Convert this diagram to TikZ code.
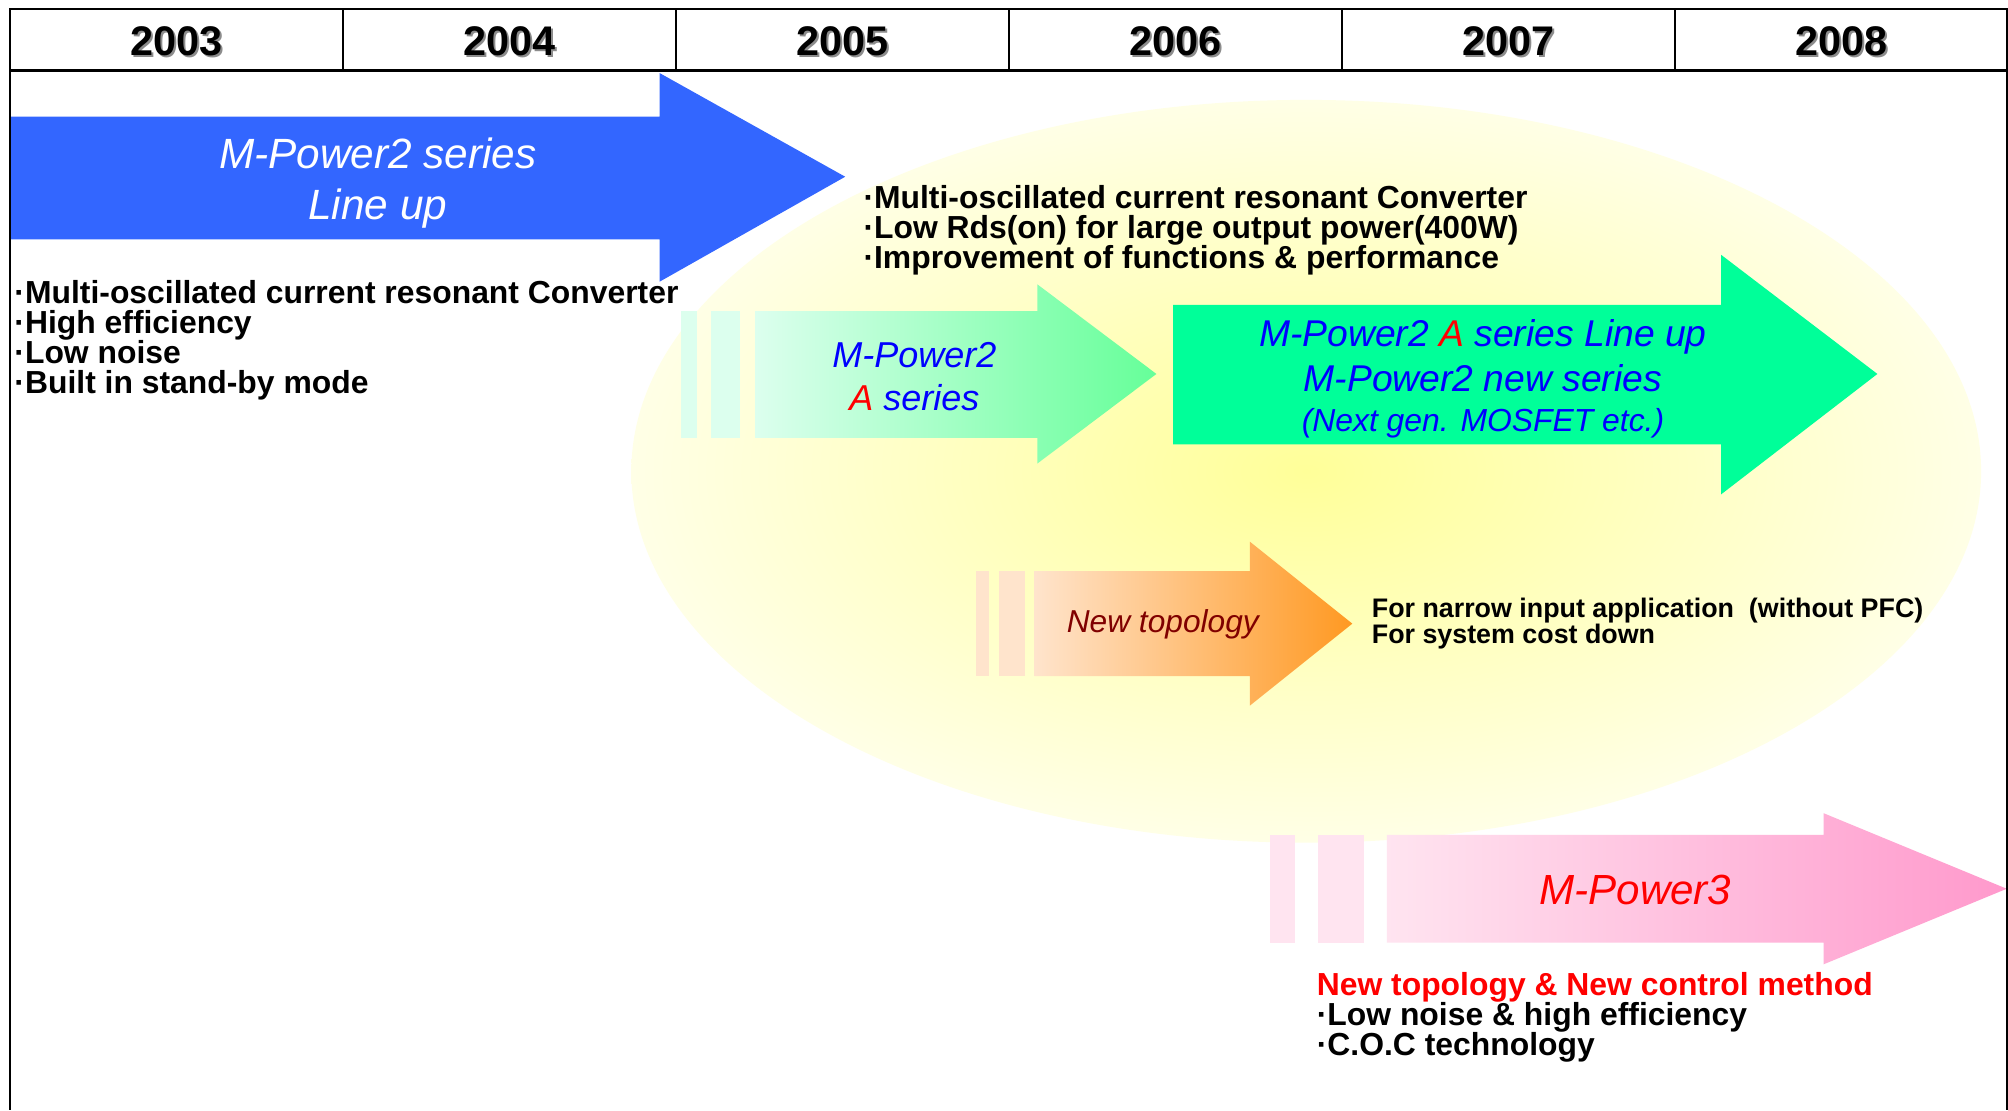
\documentclass[tikz,border=0pt]{standalone}
\usepackage{fontspec}
\setmainfont{Liberation Sans}
\usepackage{tikz}

\definecolor{arrowblue}{HTML}{3366FF}
\definecolor{springgreen}{HTML}{00FF99}
\definecolor{mintpale}{HTML}{DCFFEE}
\definecolor{mintdark}{HTML}{66FF99}
\definecolor{peachpale}{HTML}{FFE4CC}
\definecolor{peachdark}{HTML}{FF9922}
\definecolor{pinkpale}{HTML}{FFE4F0}
\definecolor{pinkdark}{HTML}{FF99CC}
\definecolor{topored}{HTML}{800000}
\definecolor{glowin}{HTML}{FFFF99}
\definecolor{glowout}{HTML}{FFFFE6}

\tikzstyle{frame}=[line width=1.2pt]
\tikzstyle{year}=[inner sep=0, font=\fontsize{23}{26}\selectfont\bfseries]
% multi-line nodes sit on the baseline of their last line
\tikzstyle{bullets}=[anchor=base west, inner sep=0, align=left,
	font=\fontsize{17.7}{16.7}\selectfont\bfseries]
\tikzstyle{label}=[anchor=base, inner sep=0, align=center, font=\itshape]

\begin{document}
\begin{tikzpicture}[x=0.25mm, y=-0.25mm]
	\def\colw{260}

	% Background
	\useasboundingbox (0,0) rectangle (1568,867);
	\fill[white] (0,0) rectangle (1568,867);

	% Glow behind the 2005-2008 part
	\shade[inner color=glowin, outer color=glowout] (1020,368) ellipse (527 and 290);

	% Header, years
	\draw[frame] (8,7) rectangle (1567,55);
	\foreach \i in {1,...,5}
		\draw[line width=0.9pt] ({8+\i*\colw},7) -- ({8+\i*\colw},55);
	\foreach \yr [count=\i from 0] in {2003,...,2008} {
		\node[year, text=black!45] (ys\yr) at ({139.5+\i*\colw},33.5) {\yr};
		\node[year] (y\yr) at ({138+\i*\colw},32) {\yr};
	}

	% M-Power2 series
	\fill[arrowblue] (8,91) -- (515,91) -- (515,57) -- (660,138)
		-- (515,220) -- (515,187) -- (8,187) -- cycle;
	\node[label, text=white, font=\fontsize{23.5}{28.5}\selectfont\itshape] (lineup)
		at (295,171.5) {M-Power2 series\\Line up};
	\node[bullets] (features) at (11,307.6)
		{·Multi-oscillated current resonant Converter\\·High efficiency\\·Low noise\\·Built in stand-by mode};

	% A series
	\foreach \a/\b in {532/544,555/578}
		\fill[mintpale] (\a,243) rectangle (\b,342);
	\shade[left color=mintpale, right color=mintdark] (590,243) -- (810,243) -- (810,222)
		-- (903,292) -- (810,362) -- (810,342) -- (590,342) -- cycle;
	\node[label, text=blue, font=\fontsize{20}{23.8}\selectfont\itshape] (aseries)
		at (714,320.4) {M-Power2\\\textcolor{red}{A} series};
	\node[bullets] (improve) at (674,209.5)
		{·Multi-oscillated current resonant Converter\\·Low Rds(on) for large output power(400W)\\·Improvement of functions \& performance};

	% A series line up, new series
	\fill[springgreen] (916,238) -- (1344,238) -- (1344,199) -- (1466,292)
		-- (1344,386) -- (1344,347) -- (916,347) -- cycle;
	\node[label, text=blue, font=\fontsize{20.7}{25}\selectfont\itshape] (newseries)
		at (1158,337) {M-Power2 \textcolor{red}{A} series Line up\\M-Power2 new series\\[-2.8pt]
		{\fontsize{17.7}{21}\selectfont(Next gen. MOSFET etc.)}};

	% New topology
	\foreach \a/\b in {762/772,780/800}
		\fill[peachpale] (\a,446) rectangle (\b,528);
	\shade[left color=peachpale, right color=peachdark] (808,446) -- (976,446) -- (976,423)
		-- (1056,487) -- (976,551) -- (976,528) -- (808,528) -- cycle;
	\node[label, text=topored, font=\fontsize{17.6}{20}\selectfont\itshape] (topology)
		at (908,494) {New topology};
	\node[bullets, font=\fontsize{14.9}{14.4}\selectfont\bfseries] (narrow) at (1071,502.3)
		{For narrow input application~~(without PFC)\\For system cost down};

	% M-Power3
	\foreach \a/\b in {992/1011,1029/1065}
		\fill[pinkpale] (\a,652) rectangle (\b,736);
	\shade[left color=pinkpale, right color=pinkdark] (1083,652) -- (1424,652) -- (1424,635)
		-- (1567,694) -- (1424,753) -- (1424,736) -- (1083,736) -- cycle;
	\node[label, text=red, font=\fontsize{23.4}{28}\selectfont\itshape] (mpower3)
		at (1277,706) {M-Power3};
	\node[bullets] (control) at (1028,824.5)
		{\textcolor{red}{New topology \& New control method}\\·Low noise \& high efficiency\\·C.O.C technology};

	% Frame sides
	\draw[frame] (8,55) -- (8,867);
	\draw[frame] (1567,55) -- (1567,867);

\end{tikzpicture}
\end{document}
